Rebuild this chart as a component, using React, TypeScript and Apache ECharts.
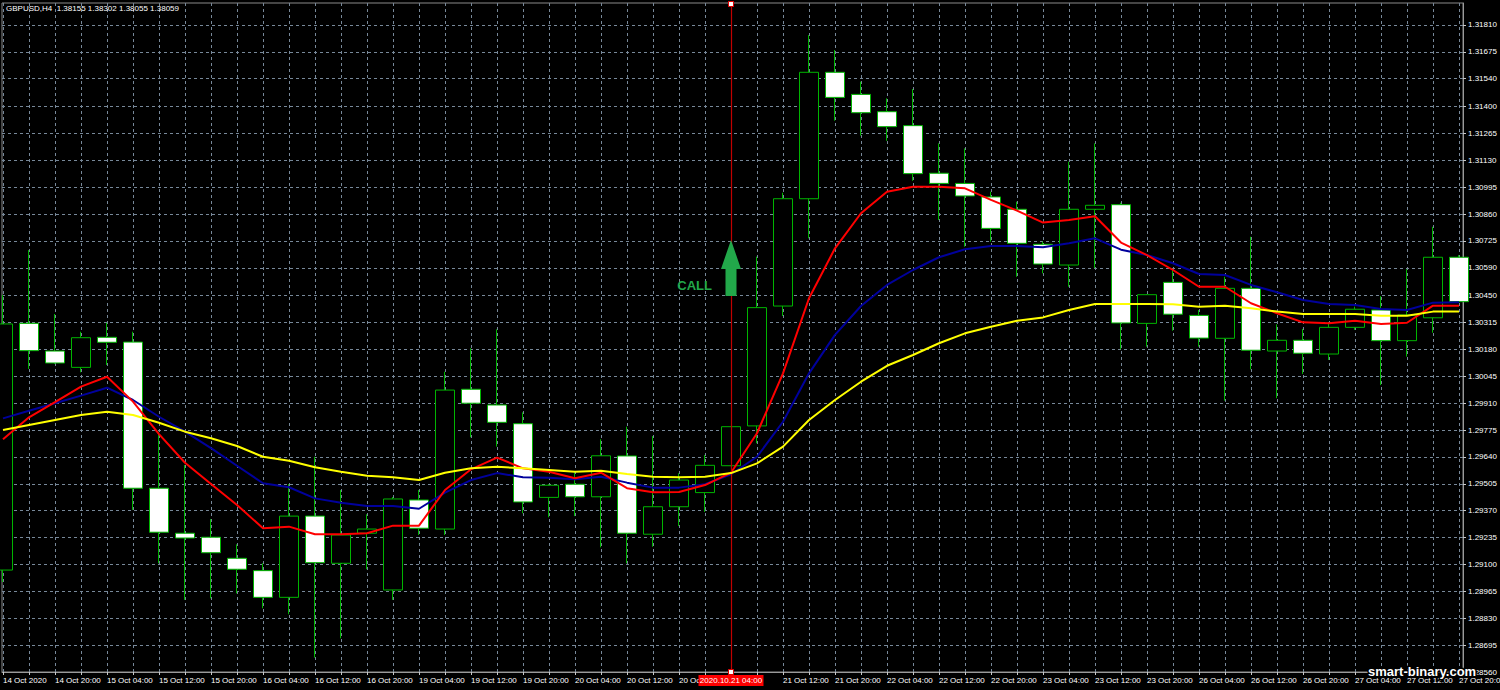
import React, { useEffect, useRef } from "react";
import * as echarts from "echarts";

// ---- Data (GBPUSD H4) ----
const times = [
  "14 Oct 12:00", "14 Oct 16:00", "14 Oct 20:00",
  "15 Oct 00:00", "15 Oct 04:00", "15 Oct 08:00", "15 Oct 12:00", "15 Oct 16:00", "15 Oct 20:00",
  "16 Oct 00:00", "16 Oct 04:00", "16 Oct 08:00", "16 Oct 12:00", "16 Oct 16:00", "16 Oct 20:00",
  "19 Oct 00:00", "19 Oct 04:00", "19 Oct 08:00", "19 Oct 12:00", "19 Oct 16:00", "19 Oct 20:00",
  "20 Oct 00:00", "20 Oct 04:00", "20 Oct 08:00", "20 Oct 12:00", "20 Oct 16:00", "20 Oct 20:00",
  "21 Oct 00:00", "21 Oct 04:00", "21 Oct 08:00", "21 Oct 12:00", "21 Oct 16:00", "21 Oct 20:00",
  "22 Oct 00:00", "22 Oct 04:00", "22 Oct 08:00", "22 Oct 12:00", "22 Oct 16:00", "22 Oct 20:00",
  "23 Oct 00:00", "23 Oct 04:00", "23 Oct 08:00", "23 Oct 12:00", "23 Oct 16:00", "23 Oct 20:00",
  "26 Oct 00:00", "26 Oct 04:00", "26 Oct 08:00", "26 Oct 12:00", "26 Oct 16:00", "26 Oct 20:00",
  "27 Oct 00:00", "27 Oct 04:00", "27 Oct 08:00", "27 Oct 12:00", "27 Oct 16:00", "27 Oct 20:00",
];
const firstTimeLabel = "14 Oct 2020";

const opens = [
  1.29072, 1.30311, 1.30172, 1.30090, 1.30241, 1.30217, 1.29483, 1.29257, 1.29237, 1.29131,
  1.29069, 1.28935, 1.29343, 1.29106, 1.29257, 1.28972, 1.29424, 1.29278, 1.29980, 1.29901,
  1.29807, 1.29437, 1.29503, 1.29440, 1.29645, 1.29252, 1.29390, 1.29461, 1.29596, 1.29796,
  1.30398, 1.30937, 1.31572, 1.31461, 1.31374, 1.31304, 1.31065, 1.31014, 1.30946, 1.30884,
  1.30708, 1.30604, 1.30884, 1.30907, 1.30311, 1.30517, 1.30351, 1.30236, 1.30487, 1.30172,
  1.30226, 1.30157, 1.30291, 1.30378, 1.30224, 1.30339, 1.30643,
];
const highs = [
  1.30453, 1.30679, 1.30358, 1.30269, 1.30314, 1.30269, 1.29767, 1.29600, 1.29328, 1.29201,
  1.29106, 1.29504, 1.29641, 1.29474, 1.29352, 1.29439, 1.29474, 1.30068, 1.30186, 1.30281,
  1.29864, 1.29504, 1.29569, 1.29729, 1.29792, 1.29745, 1.29558, 1.29650, 1.29795, 1.30646,
  1.30967, 1.31759, 1.31684, 1.31525, 1.31441, 1.31488, 1.31215, 1.31190, 1.30972, 1.30922,
  1.30721, 1.31123, 1.31215, 1.30917, 1.30458, 1.30579, 1.30378, 1.30545, 1.30746, 1.30306,
  1.30283, 1.30314, 1.30395, 1.30448, 1.30583, 1.30796, 1.30654,
];
const lows = [
  1.29012, 1.30082, 1.30107, 1.30065, 1.30102, 1.29374, 1.29106, 1.28922, 1.28930, 1.28955,
  1.28880, 1.28850, 1.28632, 1.28729, 1.29076, 1.28922, 1.29248, 1.29248, 1.29739, 1.29692,
  1.29357, 1.29337, 1.29343, 1.29186, 1.29106, 1.29189, 1.29293, 1.29364, 1.29594, 1.29709,
  1.30348, 1.30738, 1.31329, 1.31254, 1.31228, 1.31027, 1.30830, 1.30696, 1.30721, 1.30545,
  1.30562, 1.30495, 1.30588, 1.30181, 1.30194, 1.30274, 1.30194, 1.29923, 1.30080, 1.29935,
  1.30057, 1.30127, 1.30278, 1.30001, 1.30144, 1.30264, 1.30413,
];
const closes = [
  1.30308, 1.30174, 1.30112, 1.30239, 1.30216, 1.29483, 1.29262, 1.29233, 1.29159, 1.29076,
  1.28935, 1.29343, 1.29109, 1.29248, 1.29278, 1.29429, 1.29282, 1.29976, 1.29910, 1.29814,
  1.29414, 1.29498, 1.29440, 1.29646, 1.29257, 1.29390, 1.29524, 1.29598, 1.29792, 1.30390,
  1.30937, 1.31572, 1.31446, 1.31369, 1.31299, 1.31063, 1.31014, 1.30951, 1.30788, 1.30713,
  1.30609, 1.30884, 1.30904, 1.30313, 1.30455, 1.30357, 1.30237, 1.30487, 1.30176, 1.30226,
  1.30161, 1.30291, 1.30382, 1.30224, 1.30353, 1.30643, 1.30420,
];

const maRed = [
  1.29729, 1.29839, 1.29915, 1.29993, 1.30043, 1.29918, 1.29755, 1.29611, 1.29504, 1.29399,
  1.29282, 1.29290, 1.29252, 1.29252, 1.29257, 1.29295, 1.29295, 1.29474, 1.29578, 1.29637,
  1.29583, 1.29566, 1.29533, 1.29561, 1.29483, 1.29463, 1.29464, 1.29499, 1.29561, 1.29759,
  1.30060, 1.30437, 1.30688, 1.30864, 1.30972, 1.30997, 1.30997, 1.30989, 1.30931, 1.30877,
  1.30817, 1.30830, 1.30849, 1.30717, 1.30654, 1.30579, 1.30495, 1.30495, 1.30412, 1.30362,
  1.30316, 1.30311, 1.30324, 1.30308, 1.30314, 1.30400, 1.30400,
];
const maBlue = [
  1.29834, 1.29872, 1.29910, 1.29948, 1.29988, 1.29926, 1.29842, 1.29767, 1.29684, 1.29596,
  1.29508, 1.29488, 1.29432, 1.29410, 1.29394, 1.29394, 1.29380, 1.29461, 1.29524, 1.29559,
  1.29538, 1.29536, 1.29528, 1.29541, 1.29511, 1.29486, 1.29486, 1.29503, 1.29553, 1.29641,
  1.29817, 1.30060, 1.30253, 1.30398, 1.30504, 1.30579, 1.30643, 1.30683, 1.30700, 1.30700,
  1.30693, 1.30713, 1.30738, 1.30681, 1.30654, 1.30613, 1.30559, 1.30554, 1.30504, 1.30467,
  1.30428, 1.30408, 1.30403, 1.30383, 1.30378, 1.30415, 1.30417,
];
const maYellow = [
  1.29775, 1.29801, 1.29826, 1.29851, 1.29867, 1.29851, 1.29812, 1.29767, 1.29734, 1.29695,
  1.29641, 1.29621, 1.29588, 1.29566, 1.29546, 1.29538, 1.29524, 1.29561, 1.29583, 1.29591,
  1.29583, 1.29575, 1.29566, 1.29571, 1.29554, 1.29541, 1.29538, 1.29541, 1.29559, 1.29608,
  1.29692, 1.29826, 1.29926, 1.30018, 1.30098, 1.30152, 1.30211, 1.30261, 1.30294, 1.30324,
  1.30341, 1.30378, 1.30408, 1.30408, 1.30408, 1.30407, 1.30395, 1.30400, 1.30387, 1.30370,
  1.30358, 1.30358, 1.30358, 1.30349, 1.30349, 1.30370, 1.30370,
];

const yTickLabels = [
  "1.31810", "1.31675", "1.31540", "1.31400", "1.31265", "1.31130", "1.30995", "1.30860",
  "1.30725", "1.30590", "1.30450", "1.30315", "1.30180", "1.30045", "1.29910", "1.29775",
  "1.29640", "1.29505", "1.29370", "1.29235", "1.29100", "1.28965", "1.28830", "1.28695", "1.28560",
];

const headerText = "GBPUSD,H4  1.38155 1.38302 1.38055 1.38059";
const signalIndex = 28;
const signalTimeLabel = "2020.10.21 04:00";
const signalText = "CALL";
const arrowTipPrice = 1.3073;
const watermark = "smart-binary.com";

const GREEN = "#00b400";
const GRID = "#778899";
const FONT = "'Liberation Sans', Arial, sans-serif";

export default function App() {
  const ref = useRef<HTMLDivElement>(null);

  useEffect(() => {
    if (!ref.current) return;
    const chart = echarts.init(ref.current, undefined, { renderer: "svg" });

    const allIdx = times.map((_, i) => i);
    // every second bar gets a time label; the one under the signal marker is covered by its box
    const labelIdx = allIdx.filter((i) => i % 2 === 0 && i !== signalIndex);
    const yTickValues = yTickLabels.map(Number);
    const candleData = opens.map((o, i) => [i, o, closes[i], lows[i], highs[i]]);
    const toLine = (arr: number[]) => arr.map((v, i) => [i, v]);

    chart.setOption({
      animation: false,
      backgroundColor: "#000000",
      textStyle: { fontFamily: FONT },
      grid: {
        left: 2,
        top: 3,
        right: 37,
        bottom: 18,
        containLabel: false,
        outerBoundsMode: "none",
        show: true,
        borderColor: "#8a8a8a",
        borderWidth: 1,
        backgroundColor: "transparent",
      },
      xAxis: {
        type: "value",
        min: -0.0385,
        max: 56.154,
        axisLine: { show: true, onZero: false, lineStyle: { color: "#9a9a9a", width: 1 } },
        axisTick: {
          show: true,
          length: 3,
          customValues: allIdx,
          lineStyle: { color: "#c8c8c8" },
        },
        axisLabel: {
          show: true,
          customValues: labelIdx,
          color: "#ffffff",
          fontSize: 8,
          fontFamily: FONT,
          align: "left",
          margin: 4,
          formatter: (v: number) => {
            const i = Math.round(v);
            return i === 0 ? firstTimeLabel : times[i];
          },
        },
        splitLine: { show: true, lineStyle: { color: GRID, type: [3, 3], width: 1 } },
      },
      yAxis: {
        type: "value",
        position: "right",
        min: 1.2856,
        max: 1.3192,
        axisLine: { show: true, onZero: false, lineStyle: { color: "#9a9a9a", width: 1 } },
        axisTick: {
          show: true,
          length: 3,
          customValues: yTickValues,
          lineStyle: { color: "#c8c8c8" },
        },
        axisLabel: {
          show: true,
          customValues: yTickValues,
          color: "#ffffff",
          fontSize: 8,
          fontFamily: FONT,
          margin: 5,
          formatter: (v: number) => v.toFixed(5),
        },
        splitLine: { show: true, lineStyle: { color: GRID, type: [3, 3], width: 1 } },
      },
      series: [
        {
          type: "candlestick",
          data: candleData,
          encode: { x: 0, y: [1, 2, 3, 4] },
          barWidth: 19,
          clip: true,
          itemStyle: {
            color: "#000000",
            color0: "#ffffff",
            borderColor: GREEN,
            borderColor0: GREEN,
            borderWidth: 1,
          },
          markLine: {
            silent: true,
            symbol: ["none", "none"],
            label: { show: false },
            lineStyle: { color: "#c00000", width: 1.2, type: "solid" },
            data: [{ xAxis: signalIndex }],
          },
          z: 2,
        },
        {
          type: "line",
          data: toLine(maBlue),
          showSymbol: false,
          clip: true,
          lineStyle: { color: "#00009c", width: 2 },
          z: 3,
        },
        {
          type: "line",
          data: toLine(maRed),
          showSymbol: false,
          clip: true,
          lineStyle: { color: "#ff0000", width: 2 },
          z: 4,
        },
        {
          type: "line",
          data: toLine(maYellow),
          showSymbol: false,
          clip: true,
          lineStyle: { color: "#ffff00", width: 2 },
          z: 5,
        },
      ],
    });

    const sx = chart.convertToPixel({ xAxisIndex: 0 }, signalIndex) as number;
    const tipY = chart.convertToPixel({ yAxisIndex: 0 }, arrowTipPrice) as number;
    const ARROW = "#22a84a";

    chart.setOption({
      graphic: [
        {
          type: "text",
          x: 6,
          y: 8,
          z: 100,
          style: {
            text: headerText,
            fill: "#ffffff",
            font: `8px ${FONT}`,
            verticalAlign: "middle",
          },
        },
        {
          type: "polygon",
          z: 100,
          shape: {
            points: [
              [sx, tipY],
              [sx + 10, tipY + 29],
              [sx + 5.5, tipY + 29],
              [sx + 5.5, tipY + 56],
              [sx - 5.5, tipY + 56],
              [sx - 5.5, tipY + 29],
              [sx - 10, tipY + 29],
            ],
          },
          style: { fill: ARROW },
        },
        {
          type: "text",
          x: sx - 19,
          y: tipY + 46,
          z: 100,
          style: {
            text: signalText,
            fill: ARROW,
            font: `bold 13px ${FONT}`,
            align: "right",
            verticalAlign: "middle",
          },
        },
        {
          type: "rect",
          z: 100,
          shape: { x: sx - 2.5, y: 1.5, width: 5, height: 5 },
          style: { fill: "#ffffff", stroke: "#e00000", lineWidth: 1 },
        },
        {
          type: "rect",
          z: 100,
          shape: { x: sx - 2.5, y: 669.5, width: 5, height: 5 },
          style: { fill: "#ffffff", stroke: "#e00000", lineWidth: 1 },
        },
        {
          type: "rect",
          z: 101,
          shape: { x: sx - 32.5, y: 675, width: 65, height: 11 },
          style: { fill: "#ff0000" },
        },
        {
          type: "text",
          x: sx,
          y: 680.5,
          z: 102,
          style: {
            text: signalTimeLabel,
            fill: "#ffffff",
            font: `8px ${FONT}`,
            align: "center",
            verticalAlign: "middle",
          },
        },
        {
          type: "text",
          x: 1368,
          y: 671,
          z: 103,
          style: {
            text: watermark,
            fill: "#ffffff",
            font: `bold 13px ${FONT}`,
            verticalAlign: "middle",
            stroke: "#000000",
            lineWidth: 3,
          },
        },
      ],
    });

    return () => {
      chart.dispose();
    };
  }, []);

  return (
    <div
      ref={ref}
      style={{ position: "absolute", left: 0, top: 0, width: 1500, height: 690, background: "#000" }}
    />
  );
}
